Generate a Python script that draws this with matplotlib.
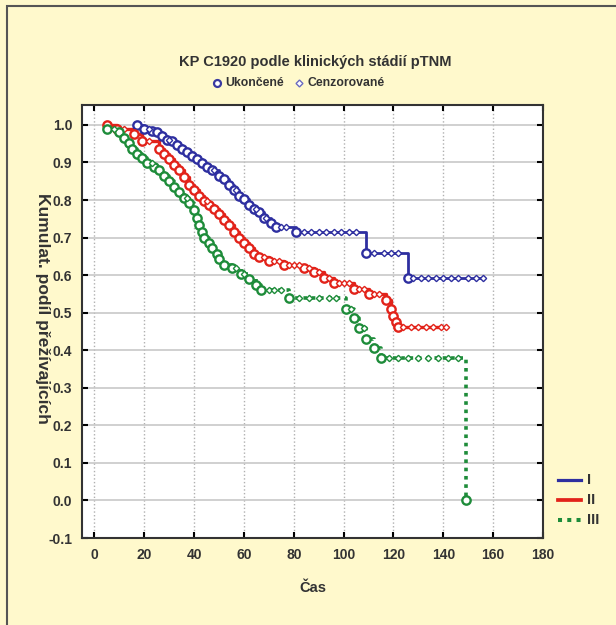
import numpy as np
import matplotlib
matplotlib.use('Agg')
import matplotlib.pyplot as plt
from matplotlib.lines import Line2D
from matplotlib.patches import Rectangle

plt.rcParams['font.family'] = ['Liberation Sans', 'DejaVu Sans']
plt.rcParams['font.weight'] = 'bold'

# stage I - event times, survival after event, censored times
t_I = [17, 20, 23, 25, 27, 29, 31, 33, 35, 37, 39, 41, 43, 45, 47, 50, 52, 54,
       56, 58, 60, 62, 64, 66, 68, 71, 73, 81, 109, 126]
s_I = [1.0, 0.99, 0.985, 0.98, 0.971, 0.961, 0.956, 0.947, 0.937, 0.927, 0.918,
       0.908, 0.898, 0.889, 0.879, 0.864, 0.855, 0.840, 0.826, 0.811, 0.802,
       0.787, 0.777, 0.768, 0.753, 0.739, 0.729, 0.714, 0.66, 0.593]
c_I = [22, 30, 48, 57, 65, 69, 75, 77, 84, 87, 90, 93, 96, 99, 102, 105, 112,
       116, 119, 122, 128, 131, 134, 137, 140, 143, 146, 150, 153, 156]

# stage II
t_II = [5, 9, 16, 19, 26, 28, 30, 32, 34, 36, 38, 40, 42, 44, 46, 48, 50, 52, 54,
        56, 58, 60, 62, 64, 66, 70, 76, 84, 88, 92, 96, 104, 110, 117, 119, 120,
        121, 122]
s_II = [1.0, 0.99, 0.976, 0.956, 0.937, 0.923, 0.908, 0.894, 0.879, 0.860, 0.840,
        0.826, 0.811, 0.797, 0.787, 0.777, 0.763, 0.748, 0.734, 0.714, 0.70,
        0.685, 0.671, 0.656, 0.647, 0.637, 0.627, 0.618, 0.608, 0.593, 0.579,
        0.564, 0.55, 0.535, 0.51, 0.49, 0.475, 0.462]
c_II = [12, 22, 45, 68, 72, 74, 78, 80, 82, 86, 90, 94, 98, 100, 102, 106, 108,
        112, 114, 124, 127, 130, 133, 136, 139, 141]

# stage III
t_III = [5, 10, 12, 14, 15, 17, 19, 21, 24, 26, 28, 30, 32, 34, 36, 38, 40, 41,
         42, 43, 44, 46, 47, 49, 50, 52, 55, 59, 62, 65, 67, 78, 101, 104, 106,
         109, 112, 115, 149]
s_III = [0.99, 0.981, 0.966, 0.952, 0.937, 0.923, 0.913, 0.898, 0.889, 0.879,
         0.864, 0.85, 0.835, 0.821, 0.806, 0.792, 0.773, 0.753, 0.734, 0.714,
         0.70, 0.685, 0.671, 0.656, 0.642, 0.627, 0.618, 0.603, 0.589, 0.574,
         0.56, 0.54, 0.51, 0.485, 0.46, 0.43, 0.405, 0.38, 0.0]
c_III = [8, 23, 37, 57, 60, 70, 72, 75, 82, 86, 90, 94, 97, 103, 108, 118, 122,
         126, 130, 134, 138, 142, 146]

groups = [
    ('I', t_I, s_I, c_I, '#2E2FA0', '-', 2.0),
    ('II', t_II, s_II, c_II, '#E2231A', '-', 2.4),
    ('III', t_III, s_III, c_III, '#1E8C3A', (0, (1, 1.3)), 2.6),
]

fig = plt.figure(figsize=(6.16, 6.25), dpi=100)
fig.patch.set_facecolor('#FFF9CC')
fig.patches.append(Rectangle((7 / 616, -0.1), 1.2, 1.1 - 6 / 625, transform=fig.transFigure,
                             fill=False, edgecolor='#555555', linewidth=1.5))

ax = fig.add_axes([82 / 616, 87 / 625, 461 / 616, 433 / 625])
ax.set_facecolor('white')

for name, t, s, c, col, ls, lw in groups:
    t = np.array(t, float)
    s = np.array(s, float)
    end = max(max(c), t[-1])
    tt = np.append(t, end)
    ss = np.append(s, s[-1])
    ax.step(tt, ss, where='post', color=col, linestyle=ls, linewidth=lw, zorder=3)
    ax.plot(t, s, 'o', ms=6, mfc='white', mec=col, mew=1.7, zorder=4)
    c = np.array(c, float)
    idx = np.searchsorted(t, c, side='right') - 1
    cs = s[np.clip(idx, 0, None)]
    ax.plot(c, cs, 'D', ms=3.2, mfc='white', mec=col, mew=1.0, zorder=4)

ax.set_xlim(-5, 180)
ax.set_ylim(-0.1, 1.053)
ax.set_xticks(np.arange(0, 181, 20))
ax.set_yticks(np.round(np.arange(-0.1, 1.01, 0.1), 1))
ax.set_yticklabels(['%.1f' % v for v in np.arange(-0.1, 1.01, 0.1)])
ax.grid(axis='y', color='#C4C4C4', linewidth=1.1, linestyle='-', zorder=1)
ax.grid(axis='x', color='#B0B0B0', linewidth=1.0, linestyle=':', zorder=1)
ax.tick_params(direction='in', length=4, width=1.5, top=True, right=True,
               labelsize=10, pad=7, colors='black', labelcolor='#333333')
for lab in ax.get_xticklabels() + ax.get_yticklabels():
    lab.set_fontweight('bold')
for sp in ax.spines.values():
    sp.set_linewidth(1.5)
    sp.set_color('#333333')

ax.set_xlabel('Čas', fontsize=10.5, fontweight='bold', color='#333333', labelpad=14)
fig.text(42 / 616, 1 - 308 / 625, 'Kumulat. podíl přežívajících', rotation=-90,
         ha='center', va='center', fontsize=12.5, fontweight='bold', color='#333333')

fig.text(0.511, 1 - 62 / 625, 'KP C1920 podle klinických stádií pTNM',
         ha='center', va='center', fontsize=10.5, fontweight='bold', color='#333333')
fig.lines.append(Line2D([217 / 616], [1 - 83 / 625], marker='o', ms=5, mfc='white',
                        mec='#3A3AA0', mew=1.6, transform=fig.transFigure))
fig.text(225 / 616, 1 - 83 / 625, 'Ukončené', ha='left', va='center',
         fontsize=8.8, fontweight='bold', color='#333333')
fig.lines.append(Line2D([299 / 616], [1 - 83 / 625], marker='D', ms=3.5, mfc='white',
                        mec='#6A6AC0', mew=1.0, transform=fig.transFigure))
fig.text(307 / 616, 1 - 83 / 625, 'Cenzorované', ha='left', va='center',
         fontsize=8.8, fontweight='bold', color='#333333')

# stage legend on the right
for i, (name, t, s, c, col, ls, lw) in enumerate(groups):
    y = 1 - (480 + 20 * i) / 625
    fig.lines.append(Line2D([558 / 616, 581 / 616], [y, y], color=col, linestyle=ls,
                            linewidth=lw + 0.3, transform=fig.transFigure))
    fig.text(587 / 616, y, name, ha='left', va='center', fontsize=10.5,
             fontweight='bold', color='#333333')

fig.savefig('out.png', dpi=100, facecolor=fig.get_facecolor())
